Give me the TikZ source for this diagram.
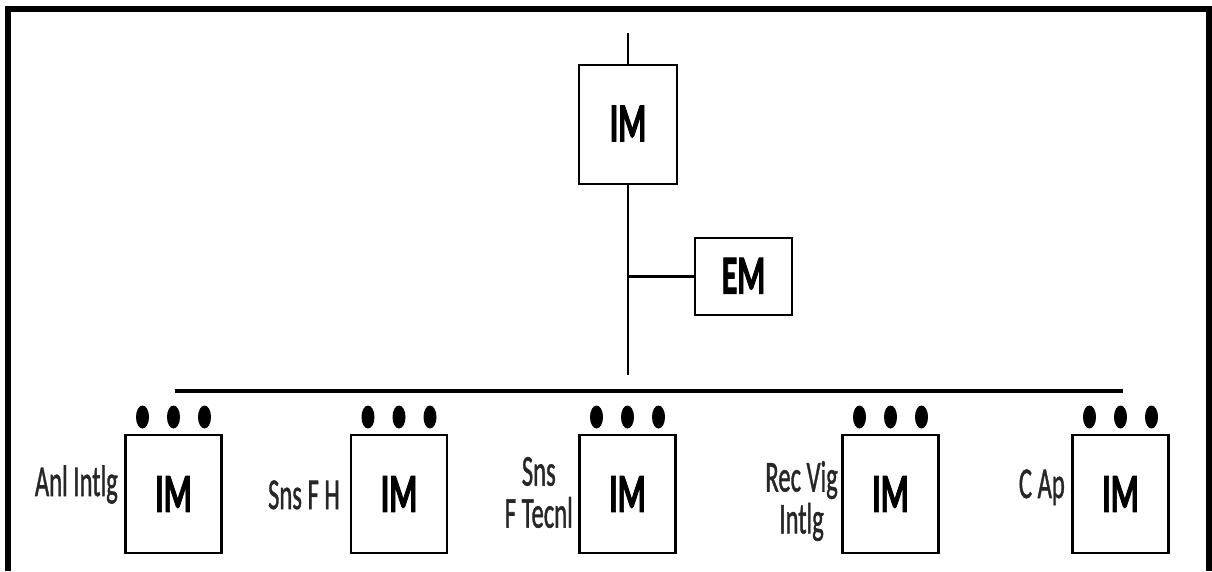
\documentclass[tikz,border=0pt]{standalone}
\usepackage{fontspec}
\setmainfont{Carlito}
\newfontfamily\imfont{Carlito}[FakeBold=2.2]
\newfontfamily\lblfont{Carlito}[FakeBold=1.4]
\tikzset{
  box/.style={draw, line width=2.6pt, minimum width=96pt, minimum height=118pt, inner sep=0pt},
  emboxst/.style={draw, line width=2.6pt, minimum width=97pt, minimum height=77pt, inner sep=0pt},
  wire/.style={line width=2.6pt},
  bus/.style={line width=3.8pt},
  lbl/.style={inner sep=0pt, text=black!85, font=\fontsize{44}{38}\lblfont},
}
\newcommand{\sq}[1]{\scalebox{0.56}[1]{#1}}
\newcommand{\imtext}[1]{\fontsize{55}{55}\imfont\bfseries\scalebox{0.58}[1]{#1}}
\begin{document}
\begin{tikzpicture}[x=1pt,y=-1pt]
\useasboundingbox (0,0) rectangle (1212,571);
% frame
\draw[line width=6pt] (7.5,571) -- (7.5,8.5) -- (1208.5,8.5) -- (1208.5,571);
% top
\coordinate (t0) at (628,33);
\node[box, minimum height=119pt, minimum width=98pt] (top) at (628,124.5) {\raisebox{2pt}{\imtext{IM}}};
\node[emboxst] (em) at (743.5,276.5) {\raisebox{1.5pt}{\imtext{EM}}};
\coordinate (vb) at (628,375);
\draw[wire] (t0) -- (top.north);
\draw[wire] (top.south) -- (vb);
\draw[wire] (top.south |- em.west) -- (em.west);
% bus
\coordinate (b1) at (175,391);
\coordinate (b2) at (1123,391);
\draw[bus] (b1) -- (b2);
% bottom boxes
\foreach \n/\cx in {1/173.5, 2/399, 3/627.5, 4/890.5, 5/1120.5}{
  \node[box] (m\n) at (\cx,494) {\raisebox{-3.5pt}{\imtext{IM}}};
  \fill (\cx-31,417) ellipse [x radius=6.5, y radius=11.5];
  \fill (\cx,417) ellipse [x radius=6.5, y radius=11.5];
  \fill (\cx+31,417) ellipse [x radius=6.5, y radius=11.5];
}
% labels
\node[lbl, anchor=base east] (l1) at (118,496) {\sq{Anl Intlg}};
\node[lbl, anchor=base east] (l2) at (340,509) {\sq{Sns F H}};
\node[lbl, anchor=east] (l3) at (573,498) {\sq{\begin{tabular}{@{}c@{}}Sns\\F Tecnl\end{tabular}}};
\node[lbl, anchor=east] (l4) at (838,503) {\sq{\begin{tabular}{@{}c@{}}Rec Vig\\Intlg\end{tabular}}};
\node[lbl, anchor=base east] (l5) at (1065,498) {\sq{C Ap}};
\end{tikzpicture}
\end{document}
